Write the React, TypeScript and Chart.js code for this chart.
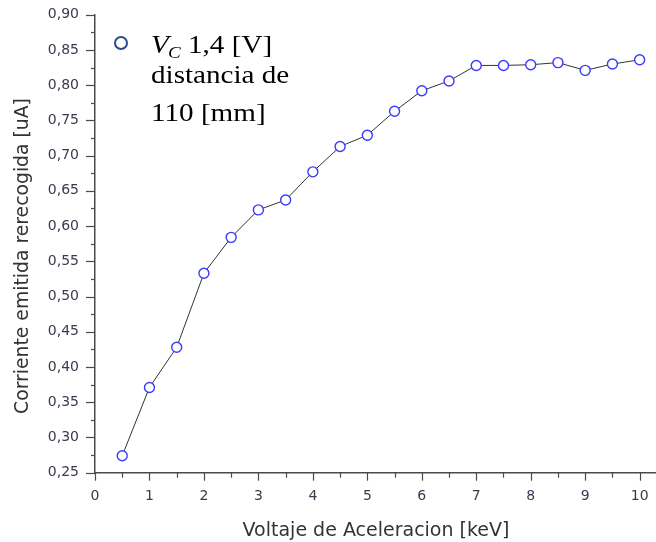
import React, { useEffect, useRef } from "react";
import { Chart, registerables } from "chart.js";

Chart.register(...registerables);

const voltages = [0.5, 1, 1.5, 2, 2.5, 3, 3.5, 4, 4.5, 5, 5.5, 6, 6.5, 7, 7.5, 8, 8.5, 9, 9.5, 10];
const currents = [0.274, 0.371, 0.428, 0.533, 0.584, 0.623, 0.637, 0.677, 0.713, 0.729, 0.763, 0.792, 0.806, 0.828, 0.828, 0.829, 0.832, 0.821, 0.830, 0.836];

const xTitle = "Voltaje de Aceleracion [keV]";
const yTitle = "Corriente emitida rerecogida [uA]";
const legendLine1 = "1,4 [V]";
const legendLine2 = "distancia de";
const legendLine3 = "110 [mm]";

const AXIS_COLOR = "#4a4a4a";
const LABEL_COLOR = "#3a3a4e";
const SANS = "'DejaVu Sans', 'Liberation Sans', Arial, sans-serif";
const SERIF = "'Liberation Serif', 'Times New Roman', serif";

function stretchText(ctx: any, text: string, x: number, y: number, sx: number) {
  ctx.save();
  ctx.translate(x, y);
  ctx.scale(sx, 1);
  ctx.fillText(text, 0, 0);
  ctx.restore();
}

const tickPlugin = {
  id: "customTicks",
  afterDraw(chart: any) {
    const ctx = chart.ctx;
    const xs = chart.scales.x;
    const ys = chart.scales.y;
    const area = chart.chartArea;
    ctx.save();
    ctx.strokeStyle = AXIS_COLOR;
    ctx.lineWidth = 1.2;
    xs.ticks.forEach((t: any) => {
      const px = Math.round(xs.getPixelForValue(t.value)) + 0.5;
      const major = Math.abs(t.value - Math.round(t.value)) < 1e-6;
      const len = major ? 8 : 5;
      ctx.beginPath();
      ctx.moveTo(px, area.bottom);
      ctx.lineTo(px, area.bottom + len);
      ctx.stroke();
    });
    ys.ticks.forEach((t: any) => {
      const py = Math.round(ys.getPixelForValue(t.value)) + 0.5;
      const k = Math.round(t.value * 40);
      const major = k % 2 === 0;
      const len = major ? 9 : 4;
      ctx.beginPath();
      ctx.moveTo(area.left, py);
      ctx.lineTo(area.left - len, py);
      ctx.stroke();
    });
    ctx.restore();

    // axis titles
    ctx.save();
    ctx.fillStyle = "#333333";
    ctx.font = "19px " + SANS;
    ctx.textAlign = "center";
    ctx.textBaseline = "alphabetic";
    ctx.fillText(xTitle, 376, 536);
    ctx.translate(28, 256);
    ctx.rotate(-Math.PI / 2);
    ctx.font = "18.8px " + SANS;
    ctx.fillText(yTitle, 0, 0);
    ctx.restore();

    // legend
    ctx.save();
    ctx.strokeStyle = "#2b4a8c";
    ctx.lineWidth = 2;
    ctx.beginPath();
    ctx.arc(121, 43, 6, 0, Math.PI * 2);
    ctx.stroke();
    ctx.fillStyle = "#000";
    ctx.textBaseline = "alphabetic";
    ctx.textAlign = "left";
    ctx.font = "italic 26px " + SERIF;
    stretchText(ctx, "V", 151, 53, 1.12);
    ctx.font = "italic 17px " + SERIF;
    stretchText(ctx, "C", 168, 58, 1.12);
    ctx.font = "26px " + SERIF;
    stretchText(ctx, legendLine1, 188, 53, 1.12);
    stretchText(ctx, legendLine2, 151, 83, 1.12);
    stretchText(ctx, legendLine3, 151, 121, 1.12);
    ctx.restore();
  },
};

export default function App() {
  const ref = useRef<HTMLCanvasElement>(null);
  useEffect(() => {
    document.body.style.margin = "0";
    const chart = new Chart(ref.current as HTMLCanvasElement, {
      type: "line",
      data: {
        datasets: [
          {
            data: voltages.map((v, i) => ({ x: v, y: currents[i] })),
            borderColor: "#333333",
            borderWidth: 1,
            pointRadius: 5,
            pointBorderWidth: 1.4,
            pointBorderColor: "#3a3aff",
            pointBackgroundColor: "#ffffff",
            tension: 0,
            clip: false,
          },
        ],
      },
      options: {
        responsive: false,
        animation: false,
        devicePixelRatio: 1,
        layout: { autoPadding: false, padding: { top: 14.7, right: 0, left: 0, bottom: 0 } },
        plugins: { legend: { display: false }, tooltip: { enabled: false } },
        scales: {
          x: {
            type: "linear",
            min: 0,
            max: 10.3,
            border: { display: true, color: AXIS_COLOR, width: 1.5 },
            grid: { display: false, drawTicks: false },
            ticks: {
              stepSize: 0.5,
              includeBounds: false,
              autoSkip: false,
              maxRotation: 0,
              padding: 15,
              color: LABEL_COLOR,
              font: { family: SANS, size: 14 },
              callback: (v: any) => {
                const n = Number(v);
                return Math.abs(n - Math.round(n)) < 1e-6 ? String(Math.round(n)) : "";
              },
            },
            title: { display: false },
            afterFit: (s: any) => {
              s.height = 69.3;
              s.paddingLeft = 0;
              s.paddingRight = 0;
            },
          },
          y: {
            type: "linear",
            min: 0.25,
            max: 0.9,
            border: { display: true, color: AXIS_COLOR, width: 1.5 },
            grid: { display: false, drawTicks: false },
            ticks: {
              stepSize: 0.025,
              autoSkip: false,
              padding: 16,
              color: LABEL_COLOR,
              font: { family: SANS, size: 14 },
              callback: (v: any) => {
                const k = Math.round(Number(v) * 40);
                return k % 2 === 0 ? (k / 40).toFixed(2).replace(".", ",") : "";
              },
            },
            title: { display: false },
            afterFit: (s: any) => {
              s.width = 95;
              s.paddingTop = 0;
              s.paddingBottom = 0;
            },
          },
        },
      },
      plugins: [tickPlugin],
    });
    return () => chart.destroy();
  }, []);
  return (
    <div style={{ position: "absolute", left: 0, top: 0, width: 656, height: 542, background: "#fff", overflow: "hidden" }}>
      <canvas ref={ref} width={656} height={542} />
    </div>
  );
}
